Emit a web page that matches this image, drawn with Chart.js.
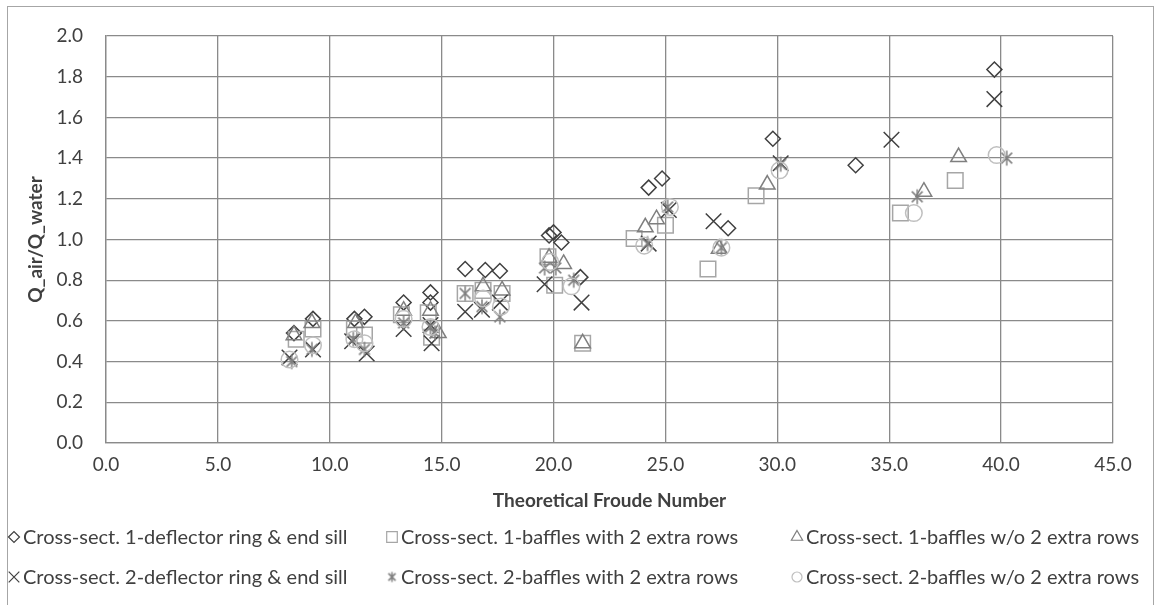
<!DOCTYPE html>
<html>
<head>
<meta charset="utf-8">
<script src="https://cdn.jsdelivr.net/npm/chart.js@4.4.1/dist/chart.umd.min.js"></script>
<style>
  html, body { margin: 0; padding: 0; background: #fff; }
  #wrap { position: relative; width: 1160px; height: 605px; overflow: hidden; }
  #frame { position: absolute; left: 7px; top: 6px; width: 1147px; height: 620px; border: 1px solid #a6a6a6; box-sizing: border-box; }
  #chart { position: absolute; left: 0; top: 0; }
</style>
</head>
<body>
<div id="wrap">
  <div id="frame"></div>
  <canvas id="chart" width="1160" height="605"></canvas>
</div>
<script>
// Air demand vs. theoretical Froude number, six test configurations

const xTicks = [0, 5, 10, 15, 20, 25, 30, 35, 40, 45];
const yTicks = [0, 0.2, 0.4, 0.6, 0.8, 1.0, 1.2, 1.4, 1.6, 1.8, 2.0];

const seriesNames = [
    'Cross-sect. 1-deflector ring & end sill',
    'Cross-sect. 1-baffles with 2 extra rows',
    'Cross-sect. 1-baffles w/o 2 extra rows',
    'Cross-sect. 2-deflector ring & end sill',
    'Cross-sect. 2-baffles with 2 extra rows',
    'Cross-sect. 2-baffles w/o 2 extra rows'
];

// cross-section 1, deflector ring & end sill (diamonds)
const c1DeflFr = [8.4, 9.25, 11.1, 11.55, 13.3, 14.5, 14.5, 16.05, 16.95, 17.6, 19.8, 20.0, 20.35, 21.2, 24.25, 24.85, 27.8, 29.8, 33.5, 39.7];
const c1DeflQ  = [0.54, 0.61, 0.61, 0.62, 0.69, 0.74, 0.69, 0.855, 0.85, 0.845, 1.02, 1.035, 0.985, 0.815, 1.255, 1.30, 1.055, 1.495, 1.365, 1.835];

// cross-section 1, baffles with 2 extra rows (squares)
const c1BafFr = [8.5, 9.25, 11.1, 11.55, 13.2, 14.4, 14.55, 16.05, 16.85, 17.7, 19.75, 20.05, 21.3, 23.6, 25.0, 26.9, 29.05, 35.5, 37.95];
const c1BafQ  = [0.51, 0.56, 0.56, 0.53, 0.63, 0.64, 0.52, 0.735, 0.75, 0.735, 0.915, 0.775, 0.49, 1.005, 1.07, 0.855, 1.215, 1.13, 1.29];

// cross-section 1, baffles w/o extra rows (triangles)
const c1NoRowFr = [8.4, 9.2, 11.15, 13.3, 14.5, 14.85, 16.85, 17.7, 19.8, 20.45, 21.3, 24.1, 24.6, 27.4, 29.55, 36.55, 38.1];
const c1NoRowQ  = [0.53, 0.59, 0.59, 0.65, 0.65, 0.54, 0.77, 0.75, 0.91, 0.88, 0.49, 1.06, 1.10, 0.955, 1.27, 1.235, 1.405];

// cross-section 2, deflector ring & end sill (x marks)
const c2DeflFr = [8.2, 9.25, 11.0, 11.65, 13.3, 14.5, 14.55, 16.05, 16.8, 17.6, 19.6, 21.25, 24.25, 25.15, 27.15, 30.15, 35.1, 39.7];
const c2DeflQ  = [0.42, 0.46, 0.50, 0.44, 0.56, 0.58, 0.49, 0.645, 0.655, 0.69, 0.78, 0.69, 0.98, 1.145, 1.09, 1.375, 1.49, 1.69];

// cross-section 2, baffles with 2 extra rows (asterisks)
const c2BafFr = [8.3, 9.2, 11.05, 11.55, 13.3, 14.5, 14.7, 16.05, 16.8, 17.6, 19.6, 20.1, 20.9, 24.2, 25.1, 27.5, 30.15, 36.25, 40.25];
const c2BafQ  = [0.40, 0.46, 0.51, 0.46, 0.59, 0.57, 0.54, 0.735, 0.67, 0.62, 0.86, 0.86, 0.80, 0.98, 1.16, 0.96, 1.37, 1.21, 1.40];

// cross-section 2, baffles w/o extra rows (circles)
const c2NoRowFr = [8.2, 9.25, 11.1, 11.55, 13.3, 14.5, 16.85, 17.65, 19.85, 20.8, 24.05, 25.2, 27.5, 30.1, 36.1, 39.8];
const c2NoRowQ  = [0.41, 0.48, 0.51, 0.49, 0.61, 0.57, 0.71, 0.67, 0.89, 0.77, 0.97, 1.16, 0.96, 1.34, 1.13, 1.415];

const FONT = 'Lato, "Open Sans", sans-serif';
const TEXT = '#404040';
const GRID = '#8a8a8a';

function pairs(xs, ys){
    return xs.map((x, i) => ({x: x, y: ys[i]}));
}

// asterisk marker: an x with a vertical bar through it
function asterisk(size, color){
    const c = document.createElement('canvas');
    c.width = size; c.height = size;
    const g = c.getContext('2d');
    const m = size / 2, r = size / 2 - 1.5;
    const d = r * 0.72;
    g.strokeStyle = color;
    g.lineWidth = 1.5;
    g.beginPath();
    g.moveTo(m - d, m - d); g.lineTo(m + d, m + d);
    g.moveTo(m + d, m - d); g.lineTo(m - d, m + d);
    g.moveTo(m, m - r); g.lineTo(m, m + r);
    g.stroke();
    return c;
}

const styles = [
    {pointStyle: 'rectRot',  radius: 7.5, color: '#404040', legendRadius: 5.5},
    {pointStyle: 'rect',     radius: 11,  color: '#a6a6a6', legendRadius: 7.5},
    {pointStyle: 'triangle', radius: 9,   color: '#7f7f7f', legendRadius: 6.5},
    {pointStyle: 'crossRot', radius: 11,  color: '#404040', legendRadius: 7.5},
    {pointStyle: asterisk(18, '#7f7f7f'), radius: 9, color: '#7f7f7f', legendImage: asterisk(13, '#7f7f7f')},
    {pointStyle: 'circle',   radius: 8.3, color: '#bfbfbf', legendRadius: 5}
];

const seriesData = [
    pairs(c1DeflFr, c1DeflQ),
    pairs(c1BafFr, c1BafQ),
    pairs(c1NoRowFr, c1NoRowQ),
    pairs(c2DeflFr, c2DeflQ),
    pairs(c2BafFr, c2BafQ),
    pairs(c2NoRowFr, c2NoRowQ)
];

const datasets = seriesData.map((d, i) => ({
    label: seriesNames[i],
    data: d,
    showLine: false,
    order: seriesData.length - i,
    pointStyle: styles[i].pointStyle,
    pointRadius: styles[i].radius,
    pointHoverRadius: styles[i].radius,
    pointBorderColor: styles[i].color,
    pointBackgroundColor: 'rgba(0,0,0,0)',
    pointBorderWidth: 1.5
}));

// legend laid out like the spreadsheet: two rows, three columns
const legendCols = [14, 392, 797];
const legendRows = [537, 577];

const excelLegend = {
    id: 'excelLegend',
    afterDraw(chart){
        const ctx = chart.ctx;
        ctx.save();
        ctx.font = '20px ' + FONT;
        ctx.fillStyle = TEXT;
        ctx.textBaseline = 'middle';
        ctx.textAlign = 'left';
        seriesNames.forEach((name, i) => {
            const cx = legendCols[i % 3];
            const cy = legendRows[Math.floor(i / 3)];
            const st = styles[i];
            ctx.save();
            ctx.strokeStyle = st.color;
            ctx.fillStyle = 'rgba(0,0,0,0)';
            ctx.lineWidth = 1.2;
            if (st.legendImage){
                ctx.drawImage(st.legendImage, cx - st.legendImage.width / 2, cy - st.legendImage.height / 2);
            } else {
                Chart.helpers.drawPoint(ctx, {pointStyle: st.pointStyle, radius: st.legendRadius, borderWidth: 1.2, rotation: 0}, cx, cy);
            }
            ctx.restore();
            ctx.fillText(name, cx + 9, cy + 1);
        });
        ctx.restore();
    }
};

new Chart(document.getElementById('chart'), {
    type: 'scatter',
    data: {datasets: datasets},
    options: {
        responsive: false,
        animation: false,
        events: [],
        layout: {padding: {left: 0, top: 36, right: 47, bottom: 93}},
        plugins: {
            legend: {display: false},
            tooltip: {enabled: false}
        },
        scales: {
            x: {
                type: 'linear',
                min: 0, max: 45,
                afterBuildTicks: s => { s.ticks = xTicks.map(v => ({value: v})); },
                afterFit: s => { s.height = 69; },
                grid: {color: GRID, lineWidth: 1.3, drawTicks: false},
                border: {color: GRID, width: 1.3},
                ticks: {
                    padding: 10,
                    color: TEXT,
                    font: {family: FONT, size: 19},
                    callback: v => Number(v).toFixed(1)
                },
                title: {
                    display: true,
                    text: 'Theoretical Froude Number',
                    color: TEXT,
                    font: {family: FONT, size: 19, weight: 'bold'},
                    padding: {top: 0, bottom: 0}
                }
            },
            y: {
                type: 'linear',
                min: 0, max: 2,
                afterBuildTicks: s => { s.ticks = yTicks.map(v => ({value: v})); },
                afterFit: s => { s.width = 106; },
                grid: {color: GRID, lineWidth: 1.3, drawTicks: false},
                border: {color: GRID, width: 1.3},
                ticks: {
                    padding: 23,
                    color: TEXT,
                    font: {family: FONT, size: 19},
                    callback: v => Number(v).toFixed(1)
                },
                title: {
                    display: true,
                    text: 'Q_air/Q_water',
                    color: TEXT,
                    font: {family: FONT, size: 19, weight: 'bold'},
                    padding: {top: 24, bottom: 0}
                }
            }
        }
    },
    plugins: [excelLegend]
});
</script>
</body>
</html>
